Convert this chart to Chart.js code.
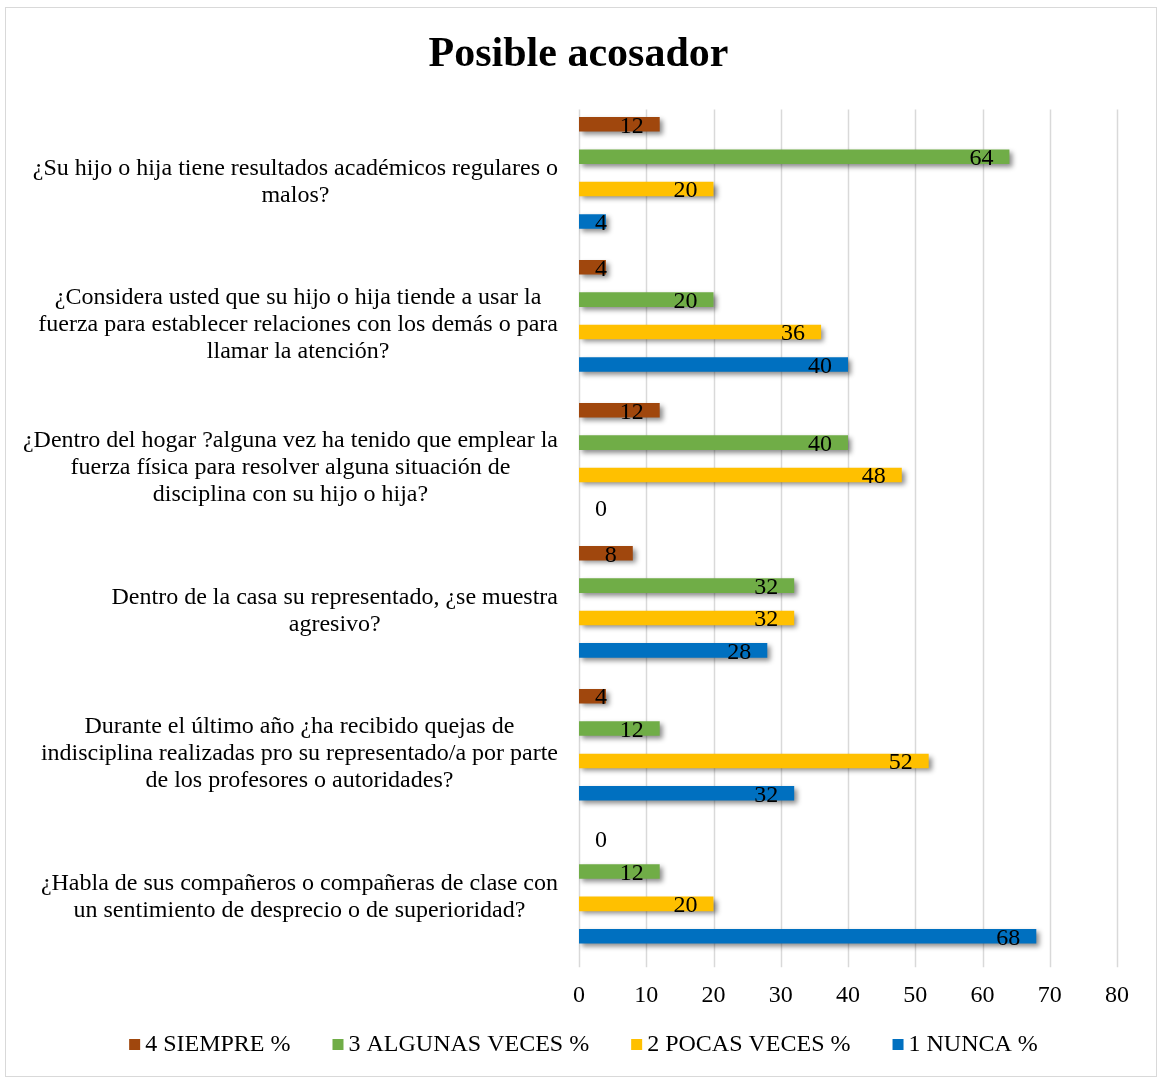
<!DOCTYPE html>
<html>
<head>
<meta charset="utf-8">
<script src="https://cdn.jsdelivr.net/npm/chart.js@4"></script>
<style>
  html, body { margin: 0; padding: 0; background: #fff; }
  #wrap { position: relative; width: 1157px; height: 1078px; }
  #frame { position: absolute; left: 5px; top: 7px; width: 1150px; height: 1068px; border: 1px solid #d9d9d9; pointer-events: none; }
</style>
</head>
<body>
<div id="wrap">
  <canvas id="c" width="1157" height="1078"></canvas>
  <div id="frame"></div>
</div>
<script>
const questions = [
  ['¿Su hijo o hija tiene resultados académicos regulares o', 'malos?'],
  ['¿Considera usted que su hijo o hija tiende a usar la', 'fuerza para establecer relaciones con los demás o para', 'llamar la atención?'],
  ['¿Dentro del hogar ?alguna vez ha tenido que emplear la', 'fuerza física para resolver alguna situación de', 'disciplina con su hijo o hija?'],
  ['Dentro de la casa su representado, ¿se muestra', 'agresivo?'],
  ['Durante el último año ¿ha recibido quejas de', 'indisciplina realizadas pro su representado/a por parte', 'de los profesores o autoridades?'],
  ['¿Habla de sus compañeros o compañeras de clase con', 'un sentimiento de desprecio o de superioridad?']
];
const siempre = [12, 4, 12, 8, 4, 0];
const algunasVeces = [64, 20, 40, 32, 12, 12];
const pocasVeces = [20, 36, 48, 32, 52, 20];
const nunca = [4, 40, 0, 28, 32, 68];
const xTicks = [0, 10, 20, 30, 40, 50, 60, 70, 80];

const SERIF = '"Liberation Serif", "Times New Roman", serif';

// vertical gridlines sit a little lower than the bar bands (like the original)
const gridShift = 8;

const barExtras = {
  id: 'barExtras',
  beforeDatasetsDraw(chart) {
    const ctx = chart.ctx;
    const xs = chart.scales.x;
    const area = chart.chartArea;
    ctx.save();
    ctx.strokeStyle = '#d9d9d9';
    ctx.lineWidth = 1.5;
    xs.ticks.forEach(t => {
      const x = Math.round(xs.getPixelForValue(t.value)) + 0.5;
      ctx.beginPath();
      ctx.moveTo(x, area.top + gridShift);
      ctx.lineTo(x, area.bottom + gridShift);
      ctx.stroke();
    });
    ctx.restore();
    // shadow under the bars
    ctx.save();
    ctx.shadowColor = 'rgba(0,0,0,0.45)';
    ctx.shadowBlur = 5;
    ctx.shadowOffsetX = 3;
    ctx.shadowOffsetY = 3;
  },
  afterDatasetsDraw(chart) {
    const ctx = chart.ctx;
    ctx.restore();
    const zero = chart.scales.x.getPixelForValue(0);
    ctx.save();
    ctx.font = '24px ' + SERIF;
    ctx.fillStyle = '#000';
    ctx.textAlign = 'left';
    ctx.textBaseline = 'middle';
    chart.data.datasets.forEach((ds, i) => {
      chart.getDatasetMeta(i).data.forEach((el, j) => {
        const txt = String(ds.data[j]);
        const w = ctx.measureText(txt).width;
        const left = Math.max(el.x - 16 - w, zero + 16);
        ctx.fillText(txt, left, el.y + 2);
      });
    });
    ctx.restore();
  }
};

// category labels: block right aligned, lines centred within block
const catLabels = {
  id: 'catLabels',
  afterDraw(chart) {
    const ctx = chart.ctx;
    const ys = chart.scales.y;
    const right = chart.chartArea.left - 21;
    const lh = 27;
    ctx.save();
    ctx.font = '24px ' + SERIF;
    ctx.fillStyle = '#000';
    ctx.textAlign = 'center';
    ctx.textBaseline = 'middle';
    questions.forEach((lines, i) => {
      const widest = Math.max(...lines.map(l => ctx.measureText(l).width));
      const cx = right - widest / 2;
      const cy = ys.getPixelForValue(i) + 9;
      const top = cy - (lines.length - 1) * lh / 2;
      lines.forEach((l, k) => ctx.fillText(l, cx, top + k * lh));
    });
    ctx.restore();
  }
};

// legend row at the bottom, spaced like the original
const legendRow = {
  id: 'legendRow',
  afterDraw(chart) {
    const ctx = chart.ctx;
    const box = 11, gap = 5, spacing = 42, y = 1044;
    ctx.save();
    ctx.font = '24px ' + SERIF;
    ctx.textBaseline = 'middle';
    ctx.textAlign = 'left';
    const items = chart.data.datasets.map(ds => ({
      text: ds.label, color: ds.backgroundColor, w: box + gap + ctx.measureText(ds.label).width
    }));
    const total = items.reduce((s, it) => s + it.w, 0) + spacing * (items.length - 1);
    let x = chart.width / 2 + 5 - total / 2;
    items.forEach(it => {
      ctx.fillStyle = it.color;
      ctx.fillRect(x, y - 5, box, box);
      ctx.fillStyle = '#000';
      ctx.fillText(it.text, x + box + gap, y + 1);
      x += it.w + spacing;
    });
    ctx.restore();
  }
};

new Chart(document.getElementById('c'), {
  type: 'bar',
  data: {
    labels: questions,
    datasets: [
      { label: '4 SIEMPRE %', data: siempre, backgroundColor: '#A0470D' },
      { label: '3 ALGUNAS VECES %', data: algunasVeces, backgroundColor: '#70AD47' },
      { label: '2 POCAS VECES %', data: pocasVeces, backgroundColor: '#FFC000' },
      { label: '1 NUNCA %', data: nunca, backgroundColor: '#0070C0' }
    ]
  },
  options: {
    indexAxis: 'y',
    responsive: false,
    animation: false,
    categoryPercentage: 0.906,
    barPercentage: 0.45,
    layout: { padding: { top: 0, right: 0, bottom: 46, left: 0 } },
    plugins: {
      title: {
        display: true,
        text: 'Posible acosador',
        color: '#000',
        font: { family: SERIF, size: 42, weight: 'bold' },
        padding: { top: 30, bottom: 21 }
      },
      legend: { display: false },
      tooltip: { enabled: false }
    },
    scales: {
      x: {
        min: 0,
        max: 80,
        afterBuildTicks(scale) { scale.ticks = xTicks.map(v => ({ value: v })); },
        afterFit(scale) { scale.paddingRight = 40; },
        ticks: { color: '#000', font: { family: SERIF, size: 24 }, padding: 22 },
        grid: { display: false, drawTicks: false },
        border: { display: false }
      },
      y: {
        ticks: { display: false },
        grid: { display: false },
        border: { display: false },
        afterFit(scale) { scale.width = 579; }
      }
    }
  },
  plugins: [barExtras, catLabels, legendRow]
});
</script>
</body>
</html>
